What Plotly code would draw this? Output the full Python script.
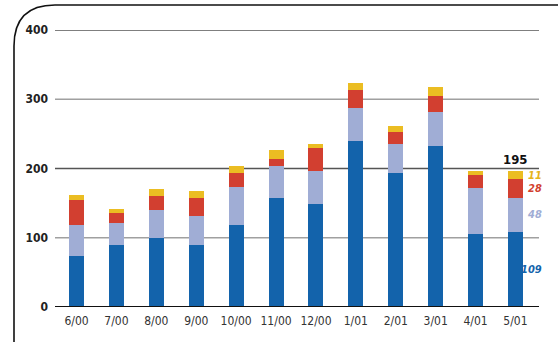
import plotly.graph_objects as go

# Monthly totals split into four stacked components
months = ["6/00", "7/00", "8/00", "9/00", "10/00", "11/00", "12/00",
          "1/01", "2/01", "3/01", "4/01", "5/01"]
blue_vals = [73, 89, 100, 90, 119, 158, 149, 239, 193, 233, 106, 109]
lightblue_vals = [45, 33, 40, 42, 55, 46, 48, 49, 42, 49, 66, 48]
red_vals = [37, 14, 21, 26, 19, 10, 33, 26, 17, 23, 18, 28]
yellow_vals = [7, 6, 10, 10, 10, 13, 6, 10, 10, 12, 6, 11]
latest_total_label = "195"

y_ticks = [0, 100, 200, 300, 400]
grid_colors = {100: "#a0a0a0", 200: "#555555", 300: "#a0a0a0", 400: "#555555"}

colors = ["#1363ab", "#a0add5", "#d23f30", "#ebbd22"]
label_colors = ["#1363ab", "#a0add5", "#d23f30", "#e6b41c"]
series = [blue_vals, lightblue_vals, red_vals, yellow_vals]

x_idx = list(range(len(months)))
fig = go.Figure()
for vals, col in zip(series, colors):
    fig.add_trace(go.Bar(x=x_idx, y=vals, marker=dict(color=col, line=dict(width=0)),
                         width=0.376, showlegend=False, hoverinfo="skip"))

narrow = "DejaVu Sans Condensed, DejaVu Sans, sans-serif"

# horizontal gridlines in alternating shades
shapes = []
for t in y_ticks[1:]:
    shapes.append(dict(type="line", xref="paper", yref="y", x0=0, x1=1, y0=t, y1=t,
                       line=dict(color=grid_colors[t], width=1.6), layer="below"))
shapes.append(dict(type="line", xref="paper", yref="y", x0=0, x1=1, y0=0, y1=0,
                   line=dict(color="#111111", width=1.8), layer="above"))

# rounded frame corner along the top-left
W, H = 484.0, 277.0
def px(xp):
    return (xp - 55) / W
def py(yp):
    return (307 - yp) / H
path = (f"M {px(14)} {py(350)} L {px(14)} {py(46)} "
        f"Q {px(14)} {py(5)} {px(55)} {py(5)} L {px(600)} {py(5)}")
shapes.append(dict(type="path", xref="paper", yref="paper", path=path,
                   line=dict(color="#111111", width=1.6)))

# value labels for the last bar, right-aligned at the plot edge
annotations = []
last = len(months) - 1
cum = 0
for vals, col in zip(series, label_colors):
    v = vals[last]
    mid = cum + v / 2
    cum += v
    annotations.append(dict(x=1, xref="paper", y=mid, yref="y", text=f"<b><i>{v}</i></b>",
                            showarrow=False, xanchor="right", yanchor="middle",
                            xshift=4, borderpad=0,
                            font=dict(family=narrow, size=11, color=col)))
annotations.append(dict(x=last, xref="x", y=cum, yref="y", text=f"<b>{latest_total_label}</b>",
                        showarrow=False, xanchor="center", yanchor="bottom", yshift=2,
                        font=dict(family=narrow, size=13, color="#111111")))

fig.update_layout(
    barmode="stack",
    width=558, height=342,
    margin=dict(l=55, r=19, t=30, b=35),
    paper_bgcolor="white", plot_bgcolor="white",
    shapes=shapes, annotations=annotations,
    xaxis=dict(range=[-0.54, 11.59], tickmode="array", tickvals=x_idx, ticktext=months,
               showgrid=False, zeroline=False, showline=False, ticks="",
               tickfont=dict(family=narrow, size=12, color="#333333"),
               ticklabelstandoff=5),
    yaxis=dict(range=[0, 400], tickmode="array", tickvals=y_ticks,
               ticktext=[f"<b>{t}</b>" for t in y_ticks],
               showgrid=False, zeroline=False, showline=False, ticks="",
               tickfont=dict(family=narrow, size=12, color="#222222"),
               ticklabelstandoff=6),
)

fig.write_html("out.html")
